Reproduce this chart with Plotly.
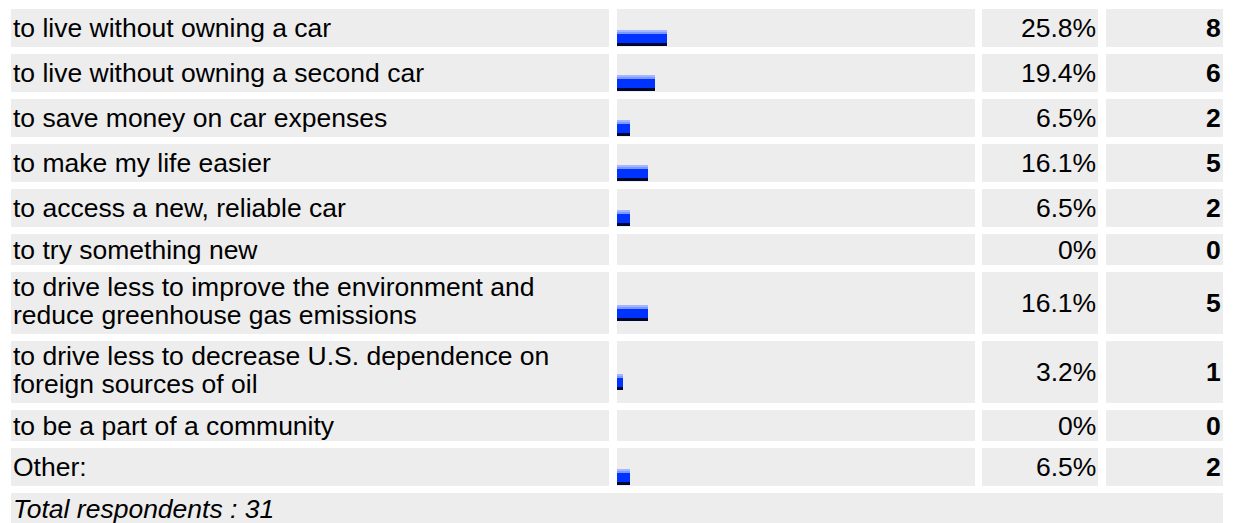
import plotly.graph_objects as go

# ---------------- data ----------------
labels = [
    "to live without owning a car",
    "to live without owning a second car",
    "to save money on car expenses",
    "to make my life easier",
    "to access a new, reliable car",
    "to try something new",
    "to drive less to improve the environment and\nreduce greenhouse gas emissions",
    "to drive less to decrease U.S. dependence on\nforeign sources of oil",
    "to be a part of a community",
    "Other:",
]
percents = [25.8, 19.4, 6.5, 16.1, 6.5, 0, 16.1, 3.2, 0, 6.5]
counts = [8, 6, 2, 5, 2, 0, 5, 1, 0, 2]
total_respondents = 31

# ---------------- layout constants ----------------
W, H = 1236, 523
COLS = [(11, 609), (617, 975), (982, 1098), (1106, 1223)]
TOP, GAP = 9, 7
ROW_H_BAR, ROW_H_PLAIN, ROW_H_TWO, ROW_H_TOTAL = 38, 31, 62, 31
LINE_STEP = 28
TWO_LINE_SHIFT = -2
BAR_FULL_PX = 194          # pixel length of a 100 % bar
BAR_H, BAR_SHIFT = 16, 10  # bar thickness, offset of bar centre below row centre
CELL = "#ededed"
FONT = "Liberation Sans, Arial, sans-serif"
FS = 26.5
# gradient layers of a bar: (colour, start from top, thickness)
BAR_LAYERS = [("#00072e", 0, 16), ("#0033ff", 0, 13), ("#7d98ff", 0, 4), ("#a3b6ff", 0, 2)]

fig = go.Figure()
shapes, annotations = [], []

# row geometry
tops, heights = [], []
y = TOP
for lab, p in zip(labels, percents):
    n_lines = lab.count("\n") + 1
    h = ROW_H_TWO if n_lines > 1 else (ROW_H_BAR if p > 0 else ROW_H_PLAIN)
    tops.append(y)
    heights.append(h)
    y += h + GAP
total_top = y

centres = [t + h / 2 for t, h in zip(tops, heights)]

# cells
for t, h in zip(tops, heights):
    for x0, x1 in COLS:
        shapes.append(dict(type="rect", xref="x", yref="y", x0=x0, x1=x1, y0=t, y1=t + h,
                           fillcolor=CELL, line=dict(width=0), layer="below"))
shapes.append(dict(type="rect", xref="x", yref="y", x0=COLS[0][0], x1=COLS[-1][1],
                   y0=total_top, y1=total_top + ROW_H_TOTAL, fillcolor=CELL,
                   line=dict(width=0), layer="below"))

# bars (gradient made from overlaid bar traces on a percent axis)
bar_y = [c + BAR_SHIFT for c in centres]
for colour, start, thick in BAR_LAYERS:
    fig.add_trace(go.Bar(
        x=percents, y=bar_y, orientation="h", xaxis="x2", yaxis="y",
        width=thick, offset=-BAR_H / 2 + start, marker=dict(color=colour, line=dict(width=0)),
        hoverinfo="skip", showlegend=False))

# texts
for lab, p, cnt, c in zip(labels, percents, counts, centres):
    lines = lab.split("\n")
    n = len(lines)
    shift = TWO_LINE_SHIFT if n > 1 else 0
    for i, ln in enumerate(lines):
        annotations.append(dict(x=COLS[0][0] + 1, y=c + shift + (i - (n - 1) / 2) * LINE_STEP,
                                xref="x", yref="y",
                                text=ln, showarrow=False, xanchor="left", yanchor="middle",
                                borderpad=0, font=dict(family=FONT, size=FS, color="#000000")))
    annotations.append(dict(x=COLS[2][1] - 1, y=c, xref="x", yref="y", text=f"{p:g}%",
                            showarrow=False, xanchor="right", yanchor="middle", borderpad=0,
                            font=dict(family=FONT, size=FS, color="#000000")))
    annotations.append(dict(x=COLS[3][1] - 1, y=c, xref="x", yref="y", text=f"<b>{cnt}</b>",
                            showarrow=False, xanchor="right", yanchor="middle", borderpad=0,
                            font=dict(family=FONT, size=FS, color="#000000")))
annotations.append(dict(x=COLS[0][0] + 1, y=total_top + ROW_H_TOTAL / 2, xref="x", yref="y",
                        text=f"<i>Total respondents : {total_respondents}</i>", showarrow=False,
                        xanchor="left", yanchor="middle", borderpad=0,
                        font=dict(family=FONT, size=FS, color="#000000")))

bar_left = COLS[1][0]
fig.update_layout(
    width=W, height=H, margin=dict(l=0, r=0, t=0, b=0),
    paper_bgcolor="white", plot_bgcolor="rgba(0,0,0,0)", barmode="overlay", bargap=0,
    xaxis=dict(range=[0, W], domain=[0, 1], visible=False, fixedrange=True),
    xaxis2=dict(range=[0, 100], domain=[bar_left / W, (bar_left + BAR_FULL_PX) / W],
                anchor="y", visible=False, fixedrange=True),
    yaxis=dict(range=[H, 0], domain=[0, 1], visible=False, fixedrange=True),
    shapes=shapes, annotations=annotations, showlegend=False,
)

fig.write_html("out.html", config={"displayModeBar": False})
